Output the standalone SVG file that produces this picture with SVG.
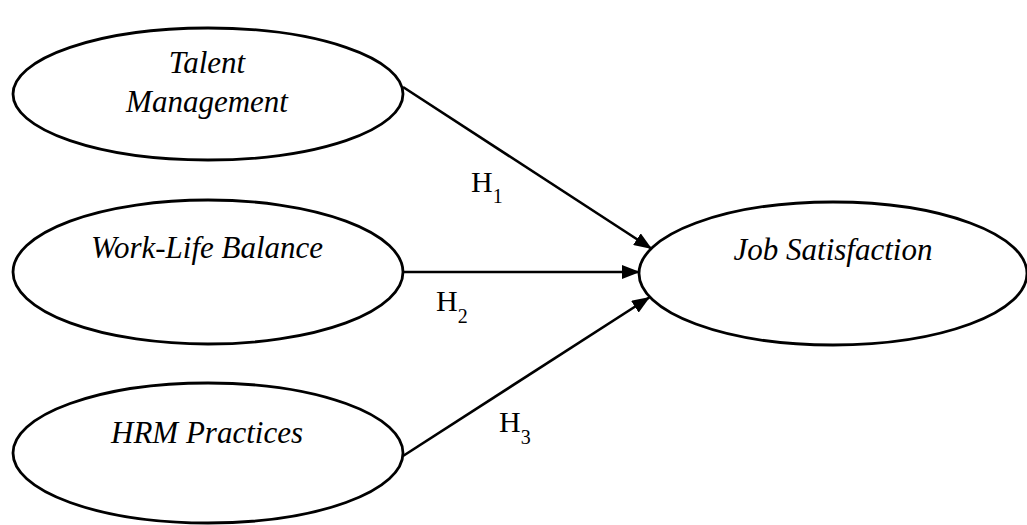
<svg xmlns="http://www.w3.org/2000/svg" width="1027" height="525" viewBox="0 0 1027 525">
<style>
.node ellipse{fill:#fff;stroke:#000;stroke-width:2.8}
.lbl{font-family:'Liberation Serif','Times New Roman',serif;font-style:italic;font-size:31px;fill:#000;text-anchor:middle}
.h{font-family:'Liberation Serif','Times New Roman',serif;font-size:30px;fill:#000}
.sub{font-size:20px}
.edge{stroke:#000;stroke-width:2.6;fill:none;marker-end:url(#arr)}
</style>
<defs>
<marker id="arr" viewBox="0 0 18 14" refX="18" refY="7" markerWidth="18" markerHeight="14" markerUnits="userSpaceOnUse" orient="auto">
<path d="M0,0 L18,7 L0,14 z" fill="#000"/>
</marker>
</defs>
<rect width="1027" height="525" fill="#fff"/>
<g id="talent" class="node">
<ellipse cx="208" cy="94" rx="195" ry="66"/>
<text class="lbl" x="207" y="73">Talent</text>
<text class="lbl" x="207" y="112">Management</text>
</g>
<g id="worklife" class="node">
<ellipse cx="208" cy="272" rx="195" ry="72"/>
<text class="lbl" x="207" y="258">Work-Life Balance</text>
</g>
<g id="hrm" class="node">
<ellipse cx="208" cy="453" rx="195" ry="70"/>
<text class="lbl" x="207" y="443">HRM Practices</text>
</g>
<g id="jobsat" class="node">
<ellipse cx="833" cy="273.5" rx="194" ry="71.5"/>
<text class="lbl" x="833" y="260">Job Satisfaction</text>
</g>
<g id="connectors">
<line class="edge" x1="403" y1="87" x2="652" y2="249"/>
<line class="edge" x1="404" y1="272" x2="640" y2="272"/>
<line class="edge" x1="403" y1="456" x2="650" y2="297"/>
<text class="h" x="471" y="192">H<tspan class="sub" dy="11">1</tspan></text>
<text class="h" x="436" y="311">H<tspan class="sub" dy="12">2</tspan></text>
<text class="h" x="499" y="432">H<tspan class="sub" dy="12">3</tspan></text>
</g>
</svg>
